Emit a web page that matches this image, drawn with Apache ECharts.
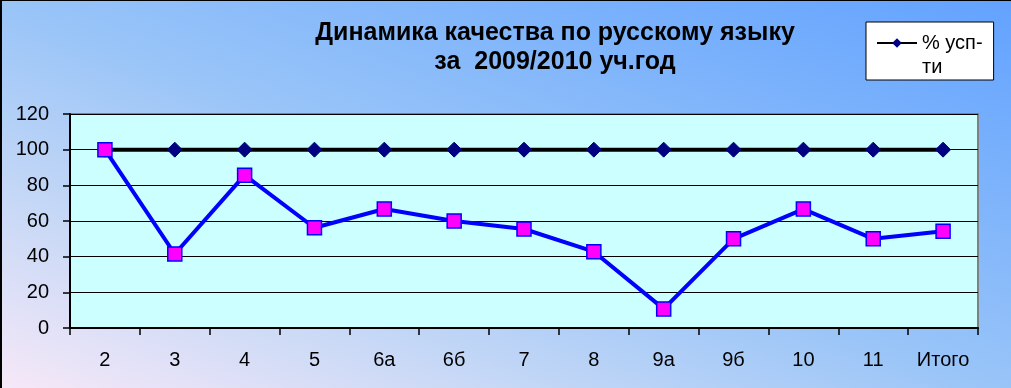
<!DOCTYPE html>
<html><head><meta charset="utf-8">
<script src="https://cdn.jsdelivr.net/npm/echarts@6/dist/echarts.min.js"></script>
<style>html,body{margin:0;padding:0;overflow:hidden}#c{width:1011px;height:388px}
#edge{position:absolute;left:0;top:0;width:1011px;height:388px;border-left:2px solid #000;border-top:1px solid #000;box-sizing:border-box;pointer-events:none}</style>
</head><body><div id="c"></div><div id="edge"></div>
<script>
const categories = ['2','3','4','5','6а','6б','7','8','9а','9б','10','11','Итого'];
const successValues = [100,100,100,100,100,100,100,100,100,100,100,100,100];
const qualityValues = [100,41.5,85.7,56.2,66.7,60,55.5,42.8,10.7,50,66.7,50,54.3];
const yTicks = [0,20,40,60,80,100,120];
const titleText = 'Динамика качества по русскому языку\nза  2009/2010 уч.год';
const legendName = '% усп-';
const legendName2 = 'ти';

const chart = echarts.init(document.getElementById('c'));
chart.setOption({
  animation:false,
  backgroundColor:{type:'linear',x:0.3716,y:1.3714,x2:0.6284,y2:-0.3714,colorStops:[
    {offset:0,color:'#f6e8f8'},{offset:0.25,color:'#c6d8f6'},{offset:0.5,color:'#98c4f8'},{offset:1,color:'#62a2ff'}]},
  title:{text:titleText,left:550,textAlign:'center',top:14,
    textStyle:{fontFamily:'Liberation Sans, Arial',fontSize:25,fontWeight:'bold',color:'#000',lineHeight:29}},
  legend:{data:[legendName],left:866,top:22,orient:'vertical',
    backgroundColor:'#fff',borderColor:'#000',borderWidth:1,borderRadius:0,
    padding:[11,11,27,10],itemWidth:40,itemHeight:12,itemGap:4,
    textStyle:{fontFamily:'Liberation Sans, Arial',fontSize:20,color:'#000'}},
  graphic:[{type:'text',left:922,top:57,z:100,style:{text:legendName2,font:'20px "Liberation Sans", Arial',fill:'#000'}}],
  grid:{left:70,right:33,top:114,bottom:60,show:true,backgroundColor:'#ccffff',borderColor:'#808080',borderWidth:2},
  xAxis:{type:'category',data:categories,boundaryGap:true,
    axisLine:{lineStyle:{color:'#000',width:2}},
    axisTick:{show:true,length:7,lineStyle:{color:'#000',width:1.5},alignWithLabel:false},
    axisLabel:{color:'#000',fontFamily:'Liberation Sans, Arial',fontSize:20,margin:22}},
  yAxis:{type:'value',min:0,max:120,interval:20,
    axisLine:{show:true,lineStyle:{color:'#000',width:2}},
    axisTick:{show:true,length:7,lineStyle:{color:'#000',width:1.5}},
    splitLine:{lineStyle:{color:'#000',width:1.2}},
    axisLabel:{color:'#000',fontFamily:'Liberation Sans, Arial',fontSize:20,margin:21,
      formatter:v=>yTicks.includes(v)?String(v):''}},
  series:[
    {name:legendName,type:'line',data:successValues,symbol:'diamond',symbolSize:15,
      lineStyle:{color:'#000',width:4},itemStyle:{color:'#000080',borderColor:'#000080'},z:2},
    {name:'качество',type:'line',data:qualityValues,symbol:'rect',symbolSize:14,
      lineStyle:{color:'#0000ff',width:4},itemStyle:{color:'#ff00ff',borderColor:'#0000ff',borderWidth:1.5},z:3}
  ]
});
</script></body></html>
